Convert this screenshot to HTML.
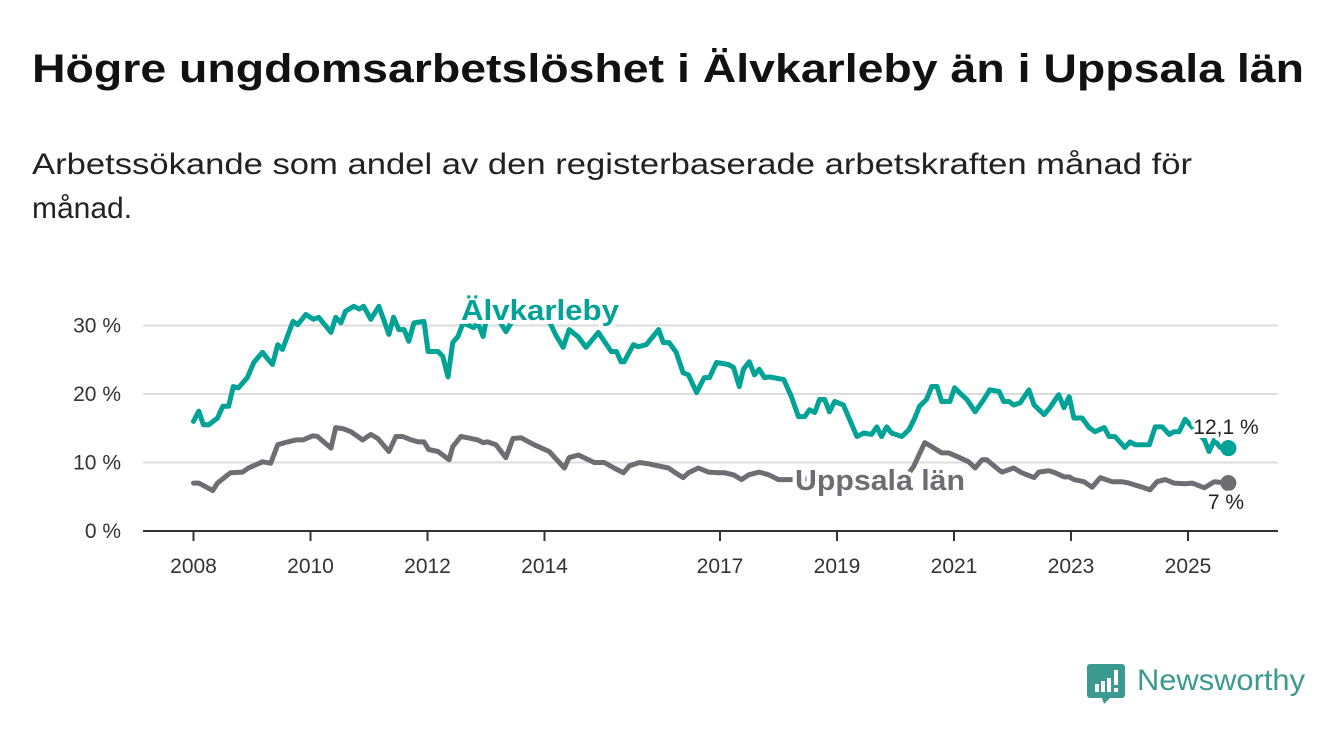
<!DOCTYPE html>
<html><head><meta charset="utf-8"><style>
html,body{margin:0;padding:0;background:#fff;}
svg{display:block;font-family:"Liberation Sans",sans-serif;}
</style></head><body>
<svg id="chart" width="1340" height="734" viewBox="0 0 1340 734">
<text x="32" y="82" font-size="40" font-weight="bold" fill="#111" textLength="1272" lengthAdjust="spacingAndGlyphs">Högre ungdomsarbetslöshet i Älvkarleby än i Uppsala län</text>
<text x="32" y="174" font-size="30" fill="#222" textLength="1160" lengthAdjust="spacingAndGlyphs">Arbetssökande som andel av den registerbaserade arbetskraften månad för</text>
<text x="32" y="218" font-size="30" fill="#222">månad.</text>
<g id="grid"></g><g id="xaxis"></g><g id="series"></g><g id="labels"></g>
<g>
<path d="M1090 664 h32 a3 3 0 0 1 3 3 v28 a3 3 0 0 1 -3 3 h-12 l-6 6 l-2 -6 h-12 a3 3 0 0 1 -3 -3 v-28 a3 3 0 0 1 3 -3z" fill="#3a9a90"/>
<rect x="1095" y="684" width="4" height="8" fill="#fff"/><rect x="1101" y="681" width="4" height="11" fill="#fff"/><rect x="1107" y="678" width="4" height="14" fill="#fff"/><rect x="1114" y="670" width="4" height="15" fill="#fff"/><rect x="1114" y="688" width="4" height="4" fill="#fff"/>
<text x="1137" y="690" font-size="30" fill="#3a9a90" textLength="168" lengthAdjust="spacingAndGlyphs">Newsworthy</text>
</g>
</svg>
<script>
const yTicks=[0,10,20,30];
const xTicks=[2008,2010,2012,2014,2017,2019,2021,2023,2025];
const alvT=[2008.00,2008.09,2008.17,2008.26,2008.41,2008.50,2008.60,2008.68,2008.77,2008.92,2009.03,2009.18,2009.23,2009.35,2009.44,2009.52,2009.70,2009.78,2009.92,2010.05,2010.14,2010.35,2010.43,2010.52,2010.60,2010.74,2010.83,2010.91,2011.03,2011.17,2011.34,2011.42,2011.51,2011.60,2011.68,2011.77,2011.94,2012.01,2012.18,2012.26,2012.35,2012.43,2012.52,2012.61,2012.79,2012.86,2012.95,2013.00,2013.17,2013.34,2013.51,2013.77,2014.03,2014.20,2014.32,2014.42,2014.58,2014.71,2014.92,2015.14,2015.23,2015.31,2015.36,2015.52,2015.60,2015.74,2015.95,2016.03,2016.13,2016.25,2016.37,2016.46,2016.60,2016.73,2016.82,2016.94,2017.14,2017.23,2017.33,2017.40,2017.50,2017.59,2017.67,2017.76,2017.85,2018.09,2018.22,2018.34,2018.45,2018.53,2018.62,2018.70,2018.79,2018.87,2018.96,2019.11,2019.34,2019.46,2019.59,2019.68,2019.76,2019.85,2019.93,2020.11,2020.23,2020.33,2020.41,2020.53,2020.62,2020.71,2020.79,2020.93,2021.01,2021.13,2021.22,2021.36,2021.51,2021.61,2021.77,2021.85,2021.94,2022.02,2022.13,2022.28,2022.37,2022.54,2022.64,2022.79,2022.88,2022.97,2023.05,2023.19,2023.31,2023.41,2023.57,2023.65,2023.75,2023.92,2024.01,2024.10,2024.34,2024.44,2024.56,2024.68,2024.76,2024.85,2024.95,2025.07,2025.17,2025.28,2025.36,2025.45,2025.55,2025.69];
const alvV=[16.0,17.5,15.5,15.5,16.5,18.2,18.2,21.1,20.9,22.4,24.6,26.1,25.5,24.3,27.2,26.5,30.6,30.1,31.6,30.9,31.2,29.0,31.2,30.4,32.1,32.8,32.4,32.8,30.9,32.8,28.7,31.2,29.4,29.4,27.7,30.4,30.6,26.2,26.2,25.5,22.5,27.5,28.4,30.4,29.7,30.4,28.4,30.6,31.5,29.1,31.5,31.8,31.5,28.5,26.8,29.4,28.3,26.8,29.0,26.2,26.2,24.7,24.7,27.2,26.9,27.2,29.4,27.5,27.5,26.1,23.1,22.8,20.2,22.4,22.4,24.6,24.3,23.9,21.1,23.6,24.7,22.8,23.6,22.4,22.5,22.1,19.6,16.7,16.7,17.7,17.3,19.2,19.2,17.4,18.9,18.4,13.8,14.3,14.1,15.2,13.8,15.2,14.3,13.8,14.8,16.5,18.2,19.2,21.1,21.1,18.9,18.9,20.9,19.9,19.2,17.4,19.2,20.6,20.4,18.9,18.9,18.4,18.7,20.6,18.4,17.0,18.0,19.9,18.0,19.6,16.5,16.5,15.1,14.5,15.1,13.8,13.8,12.2,13.0,12.6,12.6,15.2,15.2,14.1,14.5,14.5,16.3,15.2,14.3,13.3,11.6,13.3,12.2,12.1];
const uppT=[2008.00,2008.09,2008.33,2008.41,2008.63,2008.84,2008.94,2009.18,2009.32,2009.44,2009.61,2009.75,2009.87,2010.04,2010.12,2010.35,2010.43,2010.57,2010.69,2010.89,2011.03,2011.15,2011.34,2011.46,2011.58,2011.72,2011.84,2011.94,2012.02,2012.18,2012.37,2012.43,2012.57,2012.69,2012.86,2012.95,2013.03,2013.17,2013.34,2013.46,2013.60,2013.82,2014.08,2014.34,2014.42,2014.58,2014.75,2014.85,2015.02,2015.19,2015.35,2015.45,2015.62,2015.79,2015.95,2016.12,2016.22,2016.37,2016.46,2016.63,2016.80,2016.97,2017.08,2017.23,2017.37,2017.49,2017.67,2017.83,2018.00,2018.19,2018.50,2018.90,2019.30,2019.70,2020.00,2020.15,2020.31,2020.50,2020.62,2020.79,2020.91,2021.10,2021.25,2021.36,2021.48,2021.56,2021.77,2021.82,2022.02,2022.16,2022.37,2022.45,2022.62,2022.73,2022.88,2022.97,2023.05,2023.22,2023.36,2023.50,2023.70,2023.87,2023.99,2024.10,2024.22,2024.35,2024.47,2024.61,2024.76,2024.95,2025.07,2025.28,2025.45,2025.69];
const uppV=[7.0,7.0,5.9,7.0,8.5,8.6,9.2,10.1,9.9,12.6,13.0,13.3,13.3,13.9,13.8,12.1,15.1,14.9,14.5,13.3,14.1,13.5,11.6,13.8,13.8,13.3,13.0,13.0,11.9,11.6,10.4,12.3,13.8,13.6,13.3,12.9,13.0,12.6,10.7,13.5,13.6,12.6,11.6,9.2,10.7,11.1,10.4,10.0,10.0,9.2,8.5,9.5,10.0,9.8,9.5,9.2,8.6,7.8,8.5,9.2,8.6,8.5,8.5,8.2,7.5,8.2,8.6,8.2,7.5,7.5,7.6,7.8,7.6,7.3,7.3,7.5,9.4,12.9,12.3,11.4,11.4,10.7,10.1,9.2,10.4,10.4,8.9,8.6,9.2,8.5,7.8,8.6,8.8,8.5,7.9,7.9,7.5,7.2,6.4,7.8,7.2,7.2,7.0,6.7,6.4,6.0,7.2,7.5,7.0,6.9,7.0,6.3,7.2,7.0];

const NS="http://www.w3.org/2000/svg";
const xs=t=>193.5+58.5*(t-2008);
const ys=v=>531-6.85*v;
function mk(tag,attrs,parent,text){const e=document.createElementNS(NS,tag);for(const k in attrs)e.setAttribute(k,attrs[k]);if(text!=null)e.textContent=text;parent.appendChild(e);return e;}
const grid=document.getElementById('grid'),xa=document.getElementById('xaxis'),ser=document.getElementById('series'),lab=document.getElementById('labels');
yTicks.forEach(v=>{
  if(v>0){const l=mk('line',{x1:143,x2:1278,y1:ys(v),y2:ys(v),stroke:'#dcdcdc','stroke-width':2},grid);
  
  }
  const t=mk('text',{x:121,y:ys(v)+7,'font-size':21,fill:'#333','text-anchor':'end'},grid,v+' %');
  
  
});
const ax=mk('line',{x1:143,x2:1278,y1:531,y2:531,stroke:'#333','stroke-width':2},xa);


xTicks.forEach(y=>{
  const tk=mk('line',{x1:xs(y),x2:xs(y),y1:531,y2:541,stroke:'#333','stroke-width':2},xa);
  
  
  const t=mk('text',{x:xs(y),y:573,'font-size':21,fill:'#333','text-anchor':'middle'},xa,String(y));
  
  
});
function line(T,V,color,name){
  const d=T.map((t,i)=>(i?'L':'M')+xs(t).toFixed(1)+' '+ys(V[i]).toFixed(1)).join(' ');
  const p=mk('path',{d:d,fill:'none',stroke:color,'stroke-width':5,'stroke-linejoin':'round','stroke-linecap':'round'},ser);
  
  
  const n=T.length-1;
  const c=mk('circle',{cx:xs(T[n]),cy:ys(V[n]),r:8,fill:color},ser);
  
  
}
line(uppT,uppV,'#6e6d73','uppsala');
line(alvT,alvV,'#00a396','alvkarleby');
function label(x,y,txt,size,color,weight,anchor,name,len){
  const a={x:x,y:y,'font-size':size,fill:color,'font-weight':weight,'text-anchor':anchor,stroke:'#fff','stroke-width':8,'stroke-linejoin':'round','paint-order':'stroke'};
  if(len){a.textLength=len;a.lengthAdjust='spacingAndGlyphs';}
  const t=mk('text',a,lab,txt);
  
  
}
label(540,320,'Älvkarleby',29,'#00a396','bold','middle','alvkarleby-label',158);
label(880,490,'Uppsala län',29,'#6e6d73','bold','middle','uppsala-label',170);
label(1226,434,'12,1 %',21,'#222','normal','middle','alvkarleby-last-value');
label(1226,509,'7 %',21,'#222','normal','middle','uppsala-last-value');
const n1=alvT.length-1;
const d1=mk('circle',{cx:xs(alvT[n1]),cy:ys(alvV[n1]),r:8,fill:'#00a396'},lab);


</script>
</body></html>
